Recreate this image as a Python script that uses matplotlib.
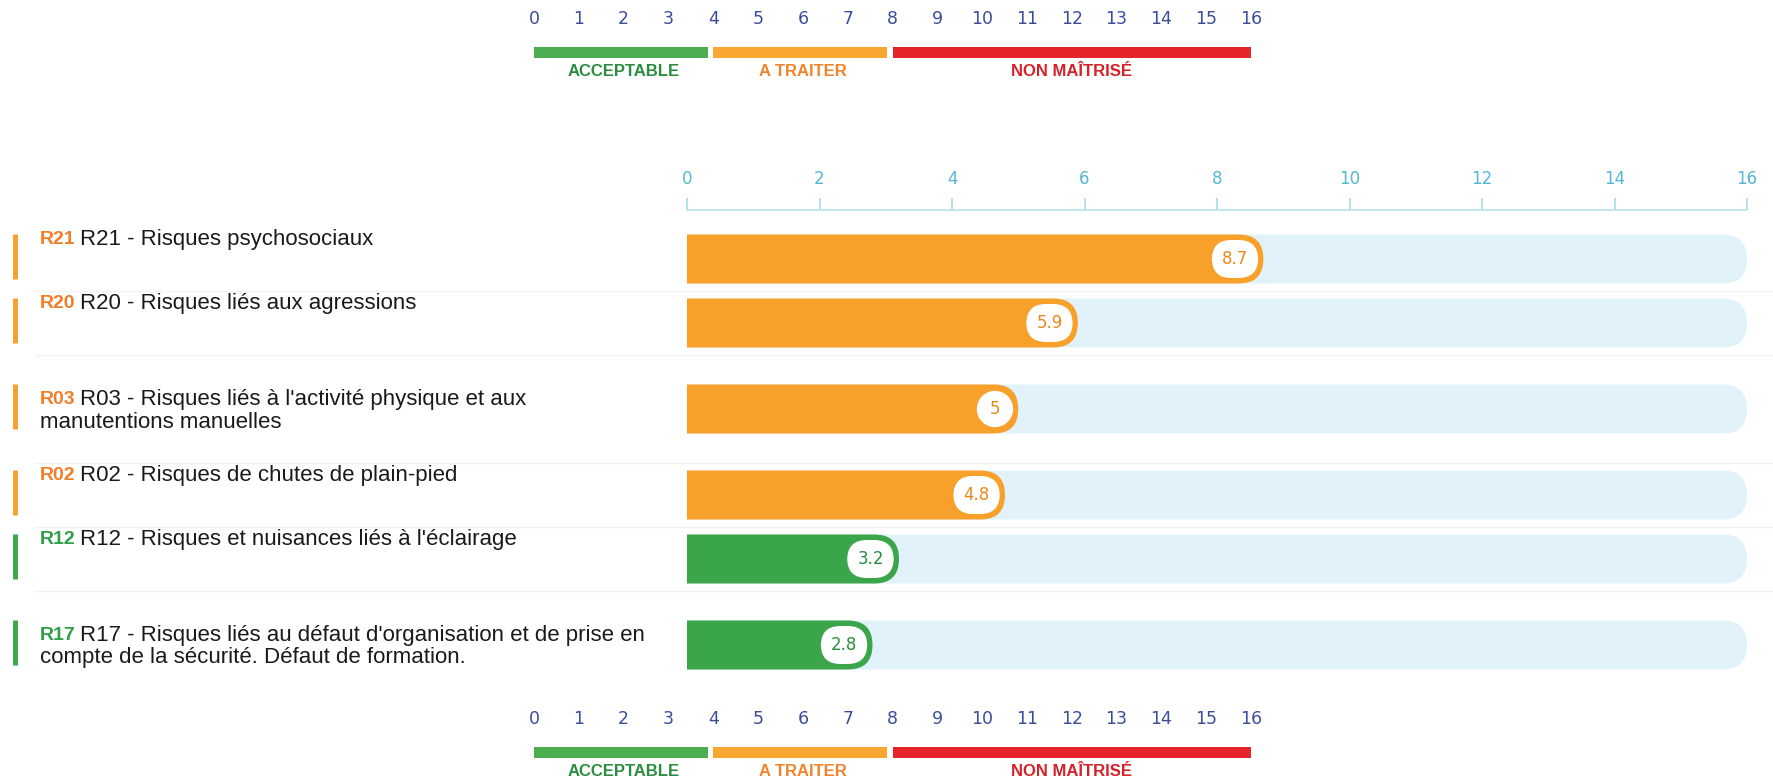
import matplotlib
matplotlib.use('Agg')
import matplotlib.pyplot as plt
import matplotlib.transforms as mtransforms
from matplotlib.patches import FancyBboxPatch, Rectangle

# data
codes = ['R21', 'R20', 'R03', 'R02', 'R12', 'R17']
labels = ['R21 - Risques psychosociaux',
          'R20 - Risques liés aux agressions',
          "R03 - Risques liés à l'activité physique et aux\nmanutentions manuelles",
          'R02 - Risques de chutes de plain-pied',
          "R12 - Risques et nuisances liés à l'éclairage",
          "R17 - Risques liés au défaut d'organisation et de prise en\ncompte de la sécurité. Défaut de formation."]
scores = [8.7, 5.9, 5, 4.8, 3.2, 2.8]
score_labels = ['8.7', '5.9', '5', '4.8', '3.2', '2.8']
row_levels = ['A TRAITER', 'A TRAITER', 'A TRAITER', 'A TRAITER', 'ACCEPTABLE', 'ACCEPTABLE']

levels = ['ACCEPTABLE', 'A TRAITER', 'NON MAÎTRISÉ']
level_bounds = [0, 4, 8, 16]
scale_ticks = list(range(0, 17))
axis_ticks = list(range(0, 17, 2))

# styles
bar_col = {'ACCEPTABLE': '#3ba54c', 'A TRAITER': '#f7a12b', 'NON MAÎTRISÉ': '#e3262c'}
txt_col = {'ACCEPTABLE': '#2a8d3e', 'A TRAITER': '#e8891c', 'NON MAÎTRISÉ': '#d52128'}
code_col = {'ACCEPTABLE': '#2f9e48', 'A TRAITER': '#f07e2a', 'NON MAÎTRISÉ': '#d52128'}
scale_col = {'ACCEPTABLE': '#4cae50', 'A TRAITER': '#f8a832', 'NON MAÎTRISÉ': '#e4252b'}
track_col = '#e2f2fb'
FONT = ['Liberation Sans', 'DejaVu Sans']

W, H = 1773, 784
fig = plt.figure(figsize=(W / 100, H / 100), dpi=100)

# main bar area (pixel layout)
ax_l, ax_r, ax_t, ax_b = 687, 1747, 210, 699
ax = fig.add_axes([ax_l / W, 1 - ax_b / H, (ax_r - ax_l) / W, (ax_b - ax_t) / H])
px_per_unit = (ax_r - ax_l) / 16.0

row_h = [64 if lab.count('\n') == 0 else 108 for lab in labels]
centers = []
acc = 0
for h in row_h:
    centers.append(acc + h / 2)
    acc += h
ax.set_xlim(0, 16)
ax.set_ylim(acc, -17)

bh = 49
rad = (bh / 2) / px_per_unit


def pill(x_end, yc, color, z):
    # left rounded end sits below x=0 and is clipped by the axes
    p = FancyBboxPatch((-rad, yc - bh / 2), x_end + rad, bh,
                       boxstyle=f'round,pad=0,rounding_size={rad}',
                       mutation_aspect=px_per_unit, fc=color, ec='none', zorder=z)
    ax.add_patch(p)


blend = mtransforms.blended_transform_factory(fig.transFigure, ax.transData)

for i, (code, lab, v, sl, lev) in enumerate(zip(codes, labels, scores, score_labels, row_levels)):
    yc = centers[i]
    pill(16, yc, track_col, 1)
    pill(v, yc, bar_col[lev], 2)
    if len(sl) == 1:
        bstyle, off = 'circle,pad=0.55', -13
    else:
        bstyle, off = 'round,pad=0.6,rounding_size=1.18', -11
    ax.annotate(sl, xy=(v, yc), xytext=(off, 0), textcoords='offset points',
                ha='right', va='center', fontsize=12,
                color=txt_col[lev], zorder=4, family=['DejaVu Sans'],
                bbox=dict(boxstyle=bstyle, fc='white', ec='none'))

    # faint separator
    if i > 0:
        ax.plot([0.02, 1], [yc - row_h[i] / 2] * 2, transform=blend, color='#f3f3f3',
                lw=1, clip_on=False, zorder=0)

    lines = lab.split('\n')
    y0 = yc - 19 if len(lines) == 1 else yc - 10
    ax.plot([15 / W, 15 / W], [yc - 25, yc + 20], transform=blend, color=bar_col[lev],
            lw=3.5, solid_capstyle='butt', clip_on=False)
    ax.text(40 / W, y0, code, transform=blend, ha='left', va='center', fontsize=14,
            fontweight='bold', color=code_col[lev], family=FONT)
    ax.text(80 / W, y0, lines[0], transform=blend, ha='left', va='center', fontsize=16,
            color='#1a1a1a', family=FONT)
    for k, extra in enumerate(lines[1:]):
        ax.text(40 / W, y0 + 23 * (k + 1), extra, transform=blend, ha='left', va='center',
                fontsize=16, color='#1a1a1a', family=FONT)

ax.xaxis.tick_top()
ax.set_xticks(axis_ticks)
ax.set_xticklabels([str(t) for t in axis_ticks])
ax.tick_params(axis='x', colors='#a6dbea', labelcolor='#55b7d3', labelsize=12,
               length=9, pad=7, width=1.2)
ax.set_yticks([])
for s in ['left', 'right', 'bottom']:
    ax.spines[s].set_visible(False)
ax.spines['top'].set_color('#b8e2ee')
ax.spines['top'].set_linewidth(1.2)
ax.patch.set_alpha(0)


def draw_scale(top_px):
    sl, sr = 534, 1251
    lax = fig.add_axes([sl / W, 1 - (top_px + 62) / H, (sr - sl) / W, 74 / H])
    lax.set_xlim(0, 16)
    lax.set_ylim(62, -12)
    lax.axis('off')
    for t in scale_ticks:
        lax.text(t, 0, str(t), ha='center', va='center', fontsize=12.5, color='#3b4c9b',
                 family=['DejaVu Sans'])
    for j, lev in enumerate(levels):
        lo, hi = level_bounds[j], level_bounds[j + 1]
        gap = 0.12 if j < len(levels) - 1 else 0
        lax.add_patch(Rectangle((lo, 28), hi - lo - gap, 11, fc=scale_col[lev], ec='none'))
        lax.text((lo + hi) / 2, 52, lev, ha='center', va='center', fontsize=12,
                 fontweight='bold', color=txt_col[lev] if lev != 'A TRAITER' else '#f0842a',
                 family=FONT)


draw_scale(19)
draw_scale(719)

fig.savefig('out.png', dpi=100)
